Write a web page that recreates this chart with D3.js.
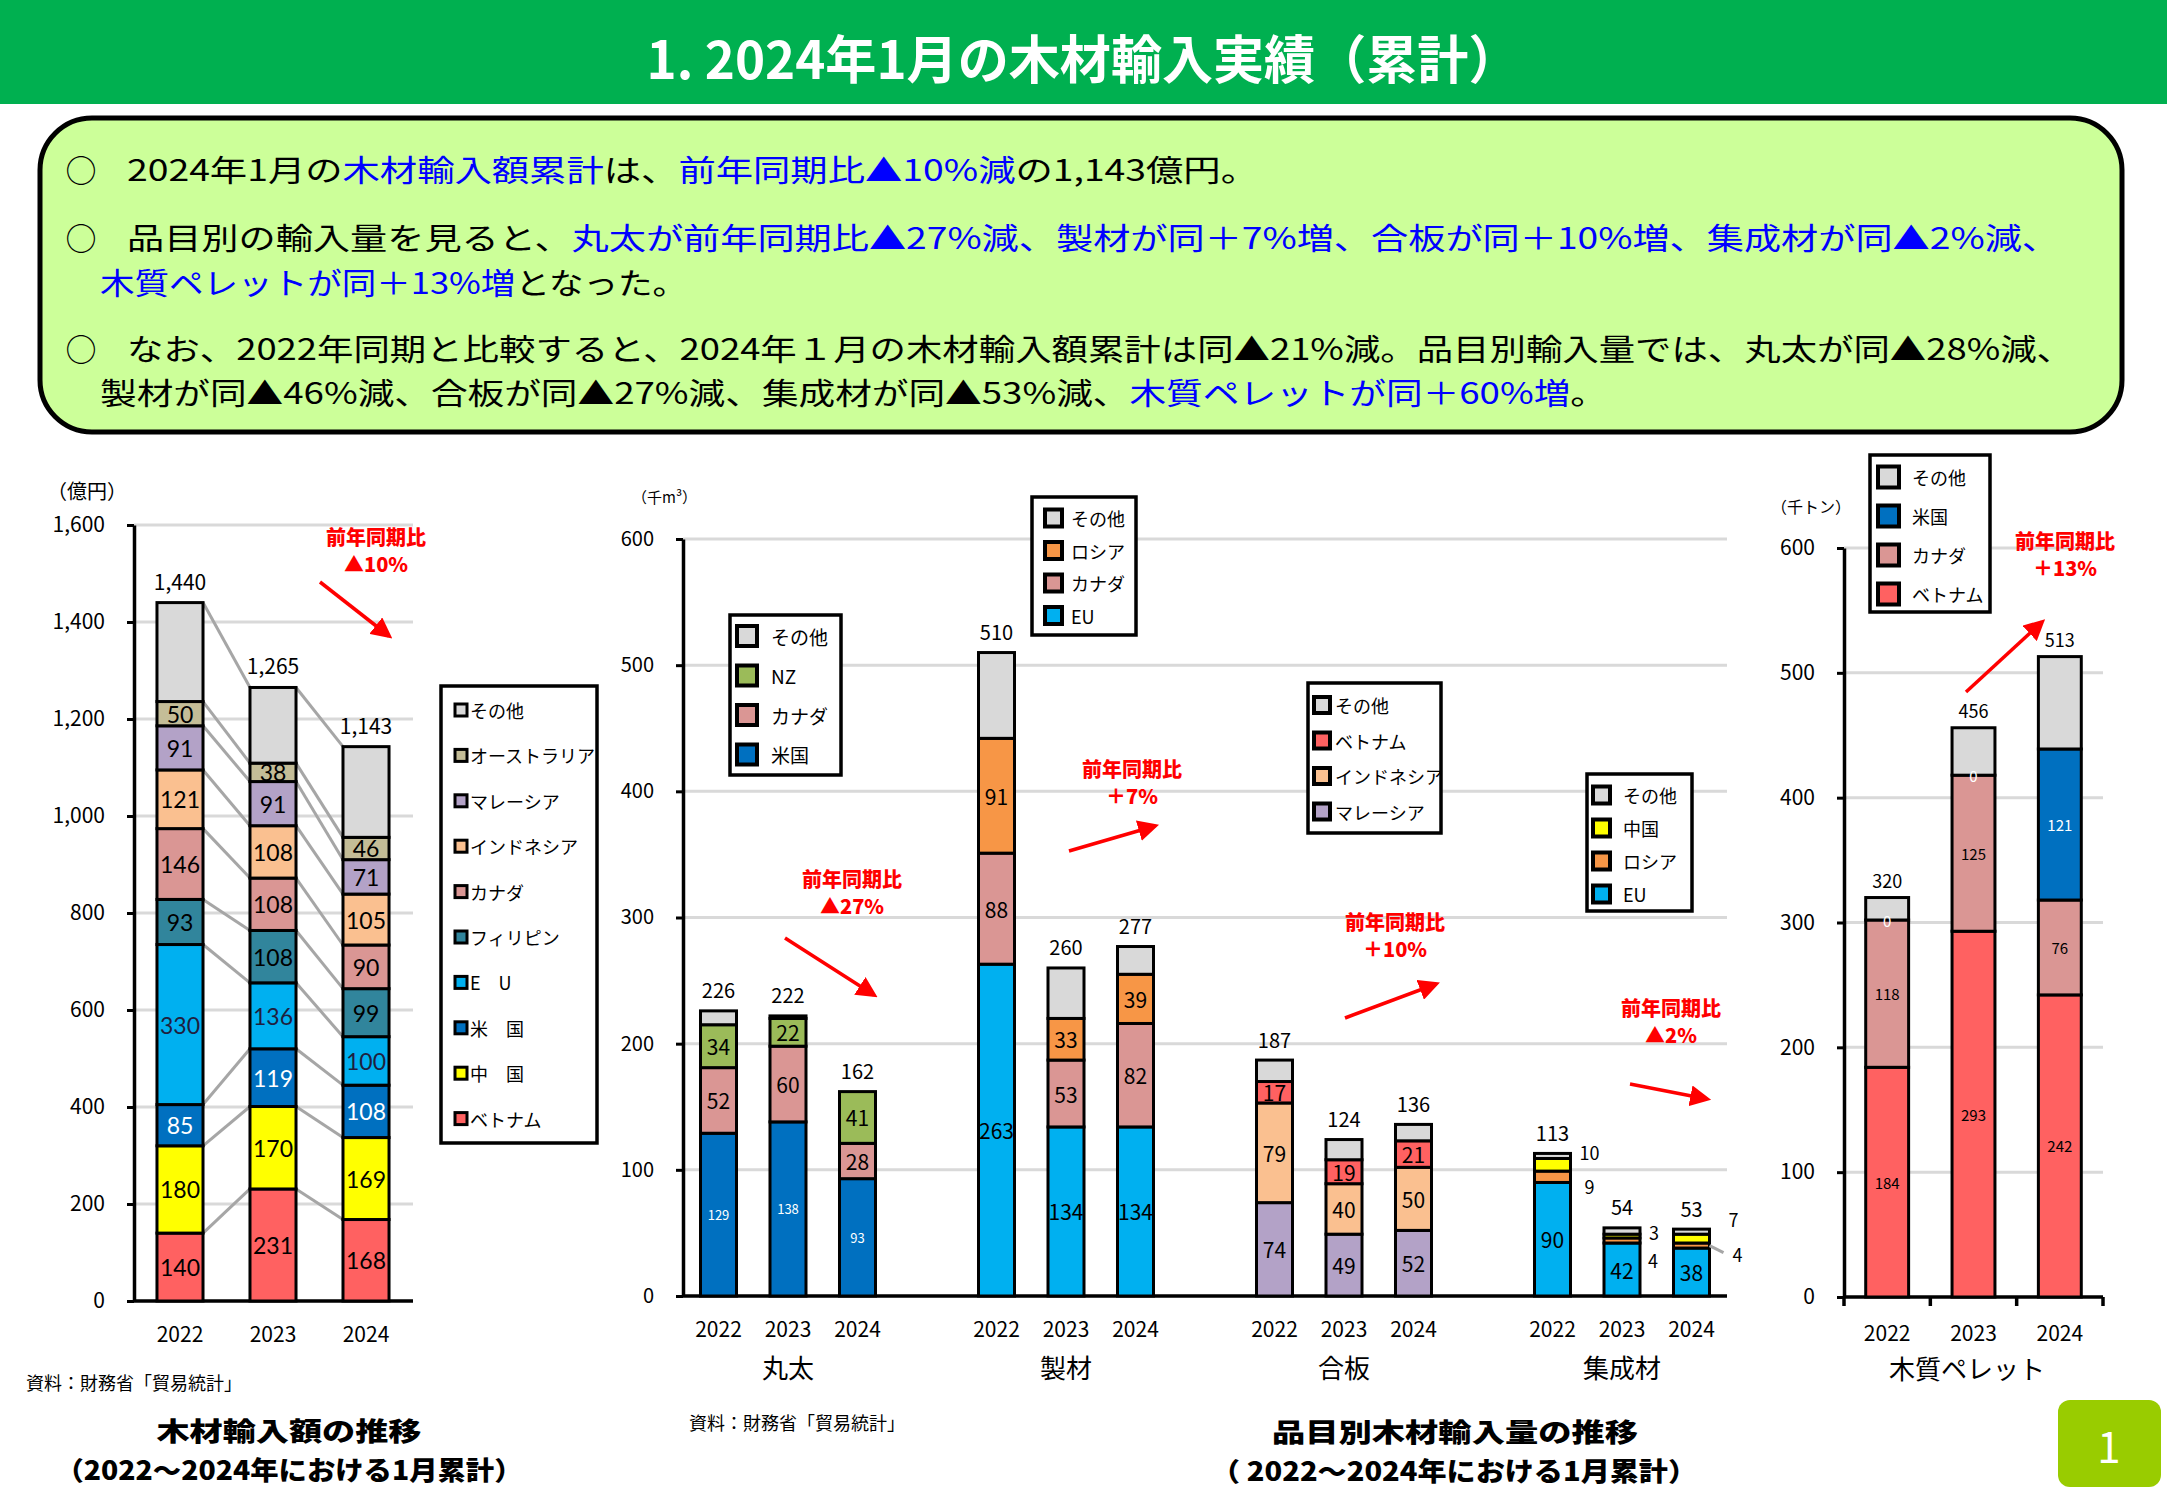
<!DOCTYPE html>
<html lang="ja">
<head>
<meta charset="utf-8">
<script src="https://cdn.jsdelivr.net/npm/d3@7"></script>
<style>
  body { margin: 0; background: #fff; }
  svg text { font-family: "Noto Sans CJK JP", "Noto Sans", sans-serif; }
  svg text.num { font-family: Lato, "Noto Sans", sans-serif; }
</style>
</head>
<body>
<div id="page"></div>
<script>
const years = ["2022", "2023", "2024"];

// 木材輸入額（億円）— stacking order, bottom to top
const amountSeries = ["ベトナム", "中国", "米国", "EU", "フィリピン", "カナダ", "インドネシア", "マレーシア", "オーストラリア", "その他"];
const amountLegend = ["ベトナム", "中　国", "米　国", "E　U", "フィリピン", "カナダ", "インドネシア", "マレーシア", "オーストラリア", "その他"];
const amountValues = [
  [140, 231, 168],
  [180, 170, 169],
  [85, 119, 108],
  [330, 136, 100],
  [93, 108, 99],
  [146, 108, 90],
  [121, 108, 105],
  [91, 91, 71],
  [50, 38, 46],
  [204, 156, 187]
];
const amountTotals = [1440, 1265, 1143];
const amountTicks = [0, 200, 400, 600, 800, 1000, 1200, 1400, 1600];

// 品目別木材輸入量（千m³）
const productGroups = ["丸太", "製材", "合板", "集成材"];

const marutaSeries = ["米国", "カナダ", "NZ", "その他"];
const marutaValues = [[129, 138, 93], [52, 60, 28], [34, 22, 41], [11, 2, 0]];
const marutaTotals = [226, 222, 162];

const seizaiSeries = ["EU", "カナダ", "ロシア", "その他"];
const seizaiValues = [[263, 134, 134], [88, 53, 82], [91, 33, 39], [68, 40, 22]];
const seizaiTotals = [510, 260, 277];

const gouhanSeries = ["マレーシア", "インドネシア", "ベトナム", "その他"];
const gouhanValues = [[74, 49, 52], [79, 40, 50], [17, 19, 21], [17, 16, 13]];
const gouhanTotals = [187, 124, 136];

const shuseiSeries = ["EU", "ロシア", "中国", "その他"];
const shuseiValues = [[90, 42, 38], [9, 4, 4], [10, 3, 7], [4, 5, 4]];
const shuseiTotals = [113, 54, 53];

const volumeTicks = [0, 100, 200, 300, 400, 500, 600];

// 木質ペレット（千トン）
const pelletSeries = ["ベトナム", "カナダ", "米国", "その他"];
const pelletValues = [[184, 293, 242], [118, 125, 76], [0, 0, 121], [18, 38, 74]];
const pelletTotals = [320, 456, 513];

const palette = {
  "ベトナム": "#FF6161", "中国": "#FFFF00", "米国": "#0070C0", "EU": "#00B0F0",
  "フィリピン": "#31859C", "カナダ": "#DA9694", "インドネシア": "#FAC090",
  "マレーシア": "#B3A2C7", "オーストラリア": "#C4BD97", "その他": "#D9D9D9",
  "NZ": "#9BBB59", "ロシア": "#F79646"
};

const W = 2167, H = 1500;
const svg = d3.select("#page").append("svg").attr("width", W).attr("height", H);
svg.append("rect").attr("width", W).attr("height", H).attr("fill", "#fff");

// ---- header ----
svg.append("rect").attr("width", W).attr("height", 104).attr("fill", "#00B050");
svg.append("text")
  .attr("x", 1083).attr("y", 56)
  .attr("text-anchor", "middle").attr("dominant-baseline", "central")
  .attr("fill", "#fff").attr("font-size", 52).attr("font-weight", 700)
  .attr("textLength", 873).attr("lengthAdjust", "spacingAndGlyphs")
  .text("1. 2024年1月の木材輸入実績（累計）");

// ---- summary box ----
svg.append("rect")
  .attr("x", 40).attr("y", 118).attr("width", 2082).attr("height", 314).attr("rx", 52)
  .attr("fill", "#CCFF99").attr("stroke", "#000").attr("stroke-width", 5);

const bodyLines = [
  {x: 127, y: 168, w: 1131, bullet: true, parts: [["2024年1月の", 0], ["木材輸入額累計", 1], ["は、", 0], ["前年同期比▲10%減", 1], ["の1,143億円。", 0]]},
  {x: 127, y: 236, w: 1932, bullet: true, parts: [["品目別の輸入量を見ると、", 0], ["丸太が前年同期比▲27%減、製材が同＋7%増、合板が同＋10%増、集成材が同▲2%減、", 1]]},
  {x: 100, y: 281, w: 587, bullet: false, parts: [["木質ペレットが同＋13%増", 1], ["となった。", 0]]},
  {x: 127, y: 347, w: 1946, bullet: true, parts: [["なお、2022年同期と比較すると、2024年１月の木材輸入額累計は同▲21%減。品目別輸入量では、丸太が同▲28%減、", 0]]},
  {x: 100, y: 391, w: 1507, bullet: false, parts: [["製材が同▲46%減、合板が同▲27%減、集成材が同▲53%減、", 0], ["木質ペレットが同＋60%増", 1], ["。", 0]]}
];
bodyLines.forEach(l => {
  if (l.bullet) {
    svg.append("text").attr("x", 81).attr("y", l.y)
      .attr("text-anchor", "middle").attr("dominant-baseline", "central")
      .attr("font-size", 31).text("○");
  }
  const t = svg.append("text").attr("x", l.x).attr("y", l.y)
    .attr("dominant-baseline", "central").attr("font-size", 30)
    .attr("textLength", l.w).attr("lengthAdjust", "spacingAndGlyphs");
  l.parts.forEach(p => t.append("tspan").attr("fill", p[1] ? "#0000FF" : "#000").text(p[0]));
});

// ---- helpers ----
function yAxis(g, y, x0, x1, ticks, fmt, fs) {
  g.append("g").selectAll("line").data(ticks.filter(t => t > 0)).join("line")
    .attr("x1", x0).attr("x2", x1)
    .attr("y1", d => y(d)).attr("y2", d => y(d))
    .attr("stroke", "#D9D9D9").attr("stroke-width", 3);
  const ax = g.append("g").attr("transform", `translate(${x0},0)`)
    .call(d3.axisLeft(y).tickValues(ticks).tickFormat(fmt).tickSize(7).tickSizeOuter(0).tickPadding(22));
  ax.attr("font-size", fs);
  ax.select(".domain").attr("stroke", "#000").attr("stroke-width", 3.5);
  ax.selectAll(".tick line").attr("stroke", "#000").attr("stroke-width", 3);
  ax.selectAll(".tick text").attr("fill", "#000");
  g.append("line").attr("x1", x0).attr("x2", x1).attr("y1", y(0)).attr("y2", y(0))
    .attr("stroke", "#000").attr("stroke-width", 3.5);
}

function drawStack(g, cfg) {
  const rows = years.map((yr, i) => {
    const r = {year: yr};
    cfg.series.forEach((s, k) => { r[s] = cfg.values[k][i]; });
    return r;
  });
  const stacked = d3.stack().keys(cfg.series)(rows);
  const x = cfg.x, y = cfg.y, bw = x.bandwidth();

  if (cfg.connect) {
    const segs = [];
    stacked.forEach(layer => {
      for (let i = 0; i < years.length - 1; i++) segs.push([layer[i], layer[i + 1]]);
    });
    g.append("g").selectAll("line").data(segs).join("line")
      .attr("x1", d => x(d[0].data.year) + bw).attr("y1", d => y(d[0][1]))
      .attr("x2", d => x(d[1].data.year)).attr("y2", d => y(d[1][1]))
      .attr("stroke", "#A6A6A6").attr("stroke-width", 3);
  }

  g.append("g").selectAll("g").data(stacked).join("g")
    .attr("fill", d => palette[d.key])
    .selectAll("rect").data(d => d).join("rect")
    .attr("x", d => x(d.data.year)).attr("width", bw)
    .attr("y", d => y(d[1])).attr("height", d => y(d[0]) - y(d[1]))
    .attr("stroke", "#000").attr("stroke-width", 3);

  const labels = [];
  stacked.forEach(layer => {
    if (cfg.skip.includes(layer.key)) return;
    layer.forEach(d => labels.push({key: layer.key, d}));
  });
  g.append("g").selectAll("text").data(labels).join("text")
    .attr("class", cfg.labelClass || null)
    .attr("x", l => x(l.d.data.year) + bw / 2)
    .attr("y", l => y((l.d[0] + l.d[1]) / 2))
    .attr("text-anchor", "middle").attr("dominant-baseline", "central")
    .attr("font-size", l => (cfg.labelSize[l.key] || cfg.labelSize.all))
    .attr("fill", l => (cfg.labelColor[l.key] || "#000"))
    .text(l => l.d[1] - l.d[0]);

  g.append("g").selectAll("text").data(cfg.totals).join("text")
    .attr("x", (t, i) => x(years[i]) + bw / 2)
    .attr("y", t => y(t) - cfg.totalGap)
    .attr("text-anchor", "middle").attr("dominant-baseline", "central")
    .attr("font-size", cfg.totalSize)
    .text(t => d3.format(",")(t));
  return stacked;
}

function drawLegend(g, o) {
  g.append("rect").attr("x", o.x).attr("y", o.y).attr("width", o.w).attr("height", o.h)
    .attr("fill", "#fff").attr("stroke", "#000").attr("stroke-width", 3.5);
  const items = g.append("g").selectAll("g").data(o.keys).join("g")
    .attr("transform", (k, i) => `translate(0,${o.y0 + i * o.step})`);
  items.append("rect")
    .attr("x", o.mx).attr("y", -o.m / 2).attr("width", o.m).attr("height", o.m)
    .attr("fill", k => palette[k]).attr("stroke", "#000").attr("stroke-width", o.m > 14 ? 4 : 3);
  items.append("text").attr("x", o.tx).attr("dominant-baseline", "central")
    .attr("font-size", o.fs).text((k, i) => o.labels[i]);
}

function drawNote(g, n) {
  const t = g.append("text").attr("text-anchor", "middle").attr("fill", "#FF0000")
    .attr("font-size", 20).attr("font-weight", 900);
  t.append("tspan").attr("x", n.cx).attr("y", n.y1).attr("dominant-baseline", "central").text("前年同期比");
  t.append("tspan").attr("x", n.cx).attr("y", n.y1 + 27).attr("dominant-baseline", "central").text(n.rate);
  g.append("line").attr("x1", n.a[0]).attr("y1", n.a[1]).attr("x2", n.a[2]).attr("y2", n.a[3])
    .attr("stroke", "#FF0000").attr("stroke-width", 3.5).attr("marker-end", "url(#arrowhead)");
}

svg.append("defs").append("marker")
  .attr("id", "arrowhead").attr("viewBox", "0 0 10 10").attr("refX", 8).attr("refY", 5)
  .attr("markerWidth", 6).attr("markerHeight", 6).attr("orient", "auto")
  .append("path").attr("d", "M0,0L10,5L0,10z").attr("fill", "#FF0000");

// ---- chart 1: 木材輸入額 ----
const g1 = svg.append("g");
const x1 = d3.scaleBand().domain(years).range([134, 412]).paddingInner(0.505).paddingOuter(0.247);
const y1 = d3.scaleLinear().domain([0, 1600]).range([1301, 525]);
yAxis(g1, y1, 134, 413, amountTicks, d3.format(","), 21);
drawStack(g1, {
  series: amountSeries, values: amountValues, totals: amountTotals, x: x1, y: y1,
  connect: true, skip: ["その他"], labelClass: "num",
  labelSize: {all: 23}, labelColor: {"米国": "#fff", "EU": "#1F1F3F"},
  totalSize: 21, totalGap: 22
});
g1.append("g").selectAll("text").data(years).join("text")
  .attr("x", d => x1(d) + x1.bandwidth() / 2).attr("y", 1333)
  .attr("text-anchor", "middle").attr("dominant-baseline", "central").attr("font-size", 21).text(d => d);
g1.append("text").attr("x", 47).attr("y", 490).attr("dominant-baseline", "central").attr("font-size", 20).text("（億円）");
drawLegend(g1, {
  x: 441, y: 686, w: 156, h: 457, y0: 710, step: 45.4, m: 12, mx: 455, tx: 470, fs: 18,
  keys: amountSeries.slice().reverse(), labels: amountLegend.slice().reverse()
});
drawNote(g1, {cx: 376, y1: 536, rate: "▲10%", a: [320, 582, 389, 636]});
g1.append("text").attr("x", 26).attr("y", 1382).attr("dominant-baseline", "central").attr("font-size", 18).text("資料：財務省「貿易統計」");
g1.append("text").attr("x", 289).attr("y", 1429).attr("text-anchor", "middle").attr("dominant-baseline", "central")
  .attr("font-size", 26).attr("font-weight", 900).attr("textLength", 265).attr("lengthAdjust", "spacingAndGlyphs").text("木材輸入額の推移");
g1.append("text").attr("x", 289).attr("y", 1468).attr("text-anchor", "middle").attr("dominant-baseline", "central")
  .attr("font-size", 26).attr("font-weight", 900).attr("textLength", 467).attr("lengthAdjust", "spacingAndGlyphs").text("（2022～2024年における1月累計）");

// ---- chart 2: 品目別木材輸入量 ----
const g2 = svg.append("g");
const xG = d3.scaleBand().domain(productGroups).range([649, 1761]);
const xIn = d3.scaleBand().domain(years).range([0, xG.bandwidth()]).paddingInner(0.482).paddingOuter(0.741);
const y2 = d3.scaleLinear().domain([0, 600]).range([1296, 539]);
yAxis(g2, y2, 683, 1727, volumeTicks, d3.format("d"), 20);
g2.append("text").attr("x", 632).attr("y", 496).attr("dominant-baseline", "central").attr("font-size", 15).text("（千m³）");

const groupData = [
  {series: marutaSeries, values: marutaValues, totals: marutaTotals, labelSize: {all: 21, "米国": 13}, labelColor: {"米国": "#fff"}, skip: ["その他"]},
  {series: seizaiSeries, values: seizaiValues, totals: seizaiTotals, labelSize: {all: 21}, labelColor: {}, skip: ["その他"]},
  {series: gouhanSeries, values: gouhanValues, totals: gouhanTotals, labelSize: {all: 21}, labelColor: {}, skip: ["その他"]},
  {series: shuseiSeries, values: shuseiValues, totals: shuseiTotals, labelSize: {all: 21}, labelColor: {}, skip: ["その他", "ロシア", "中国"]}
];
let shuseiStack = null;
productGroups.forEach((grp, gi) => {
  const gg = g2.append("g").attr("transform", `translate(${xG(grp)},0)`);
  const cfg = Object.assign({x: xIn, y: y2, totalSize: 20, totalGap: 21}, groupData[gi]);
  const st = drawStack(gg, cfg);
  if (grp === "集成材") shuseiStack = {g: gg, st};
  gg.append("g").selectAll("text").data(years).join("text")
    .attr("x", d => xIn(d) + xIn.bandwidth() / 2).attr("y", 1328)
    .attr("text-anchor", "middle").attr("dominant-baseline", "central").attr("font-size", 21).text(d => d);
  gg.append("text").attr("x", xG.bandwidth() / 2).attr("y", 1366)
    .attr("text-anchor", "middle").attr("dominant-baseline", "central").attr("font-size", 26).text(grp);
});

// small 集成材 segments labelled beside the bars
const outsideNudge = {"中国": [[19, -13], [14, -4], [24, -20]], "ロシア": [[19, 9], [13, 20], [28, 8]]};
{
  const gg = shuseiStack.g, bw = xIn.bandwidth();
  const out = [];
  shuseiStack.st.filter(l => outsideNudge[l.key]).forEach(layer => {
    layer.forEach((d, i) => out.push({key: layer.key, i, d}));
  });
  gg.append("g").selectAll("text").data(out).join("text")
    .attr("x", o => xIn(o.d.data.year) + bw + outsideNudge[o.key][o.i][0])
    .attr("y", o => y2((o.d[0] + o.d[1]) / 2) + outsideNudge[o.key][o.i][1])
    .attr("dominant-baseline", "central").attr("font-size", 18)
    .attr("text-anchor", "middle")
    .text(o => o.d[1] - o.d[0]);
  const lead = out.filter(o => o.key === "ロシア" && o.i === 2);
  gg.append("g").selectAll("line").data(lead).join("line")
    .attr("x1", o => xIn(o.d.data.year) + bw).attr("x2", o => xIn(o.d.data.year) + bw + 14)
    .attr("y1", o => y2((o.d[0] + o.d[1]) / 2)).attr("y2", o => y2((o.d[0] + o.d[1]) / 2) + 7)
    .attr("stroke", "#A6A6A6").attr("stroke-width", 3);
}

drawLegend(g2, {x: 730, y: 615, w: 111, h: 160, y0: 636, step: 39.5, m: 20, mx: 737, tx: 771, fs: 19,
  keys: marutaSeries.slice().reverse(), labels: marutaSeries.slice().reverse()});
drawLegend(g2, {x: 1032, y: 497, w: 104, h: 138, y0: 518, step: 32.5, m: 17, mx: 1045, tx: 1071, fs: 18,
  keys: seizaiSeries.slice().reverse(), labels: seizaiSeries.slice().reverse()});
drawLegend(g2, {x: 1308, y: 683, w: 133, h: 150, y0: 705, step: 35.5, m: 16, mx: 1314, tx: 1335, fs: 18,
  keys: gouhanSeries.slice().reverse(), labels: gouhanSeries.slice().reverse()});
drawLegend(g2, {x: 1587, y: 774, w: 105, h: 137, y0: 795, step: 33, m: 17, mx: 1593, tx: 1623, fs: 18,
  keys: shuseiSeries.slice().reverse(), labels: shuseiSeries.slice().reverse()});

drawNote(g2, {cx: 852, y1: 878, rate: "▲27%", a: [785, 938, 874, 995]});
drawNote(g2, {cx: 1132, y1: 768, rate: "＋7%", a: [1069, 851, 1155, 826]});
drawNote(g2, {cx: 1395, y1: 921, rate: "＋10%", a: [1345, 1018, 1436, 984]});
drawNote(g2, {cx: 1671, y1: 1007, rate: "▲2%", a: [1630, 1084, 1707, 1099]});

g2.append("text").attr("x", 689).attr("y", 1422).attr("dominant-baseline", "central").attr("font-size", 18).text("資料：財務省「貿易統計」");
g2.append("text").attr("x", 1455).attr("y", 1430).attr("text-anchor", "middle").attr("dominant-baseline", "central")
  .attr("font-size", 26).attr("font-weight", 900).attr("textLength", 366).attr("lengthAdjust", "spacingAndGlyphs").text("品目別木材輸入量の推移");
g2.append("text").attr("x", 1454).attr("y", 1469).attr("text-anchor", "middle").attr("dominant-baseline", "central")
  .attr("font-size", 26).attr("font-weight", 900).attr("textLength", 486).attr("lengthAdjust", "spacingAndGlyphs").text("（ 2022～2024年における1月累計）");

// ---- chart 3: 木質ペレット ----
const g3 = svg.append("g");
const x3 = d3.scaleBand().domain(years).range([1844, 2103]).paddingInner(0.503).paddingOuter(0.2515);
const y3 = d3.scaleLinear().domain([0, 600]).range([1297, 548]);
yAxis(g3, y3, 1844, 2103, volumeTicks, d3.format("d"), 21);
g3.append("g").selectAll("line").data(d3.range(years.length + 1)).join("line")
  .attr("x1", i => x3.range()[0] + i * x3.step()).attr("x2", i => x3.range()[0] + i * x3.step())
  .attr("y1", y3(0)).attr("y2", y3(0) + 9)
  .attr("stroke", "#000").attr("stroke-width", 3.5);
drawStack(g3, {
  series: pelletSeries, values: pelletValues, totals: pelletTotals, x: x3, y: y3,
  skip: ["その他"], labelSize: {all: 15}, labelColor: {"米国": "#fff"},
  totalSize: 18, totalGap: 18
});
g3.append("g").selectAll("text").data(years).join("text")
  .attr("x", d => x3(d) + x3.bandwidth() / 2).attr("y", 1332)
  .attr("text-anchor", "middle").attr("dominant-baseline", "central").attr("font-size", 21).text(d => d);
g3.append("text").attr("x", 1967).attr("y", 1367).attr("text-anchor", "middle").attr("dominant-baseline", "central")
  .attr("font-size", 26).text("木質ペレット");
g3.append("text").attr("x", 1771).attr("y", 506).attr("dominant-baseline", "central").attr("font-size", 16).text("（千トン）");
drawLegend(g3, {x: 1870, y: 455, w: 120, h: 157, y0: 477, step: 39, m: 21, mx: 1878, tx: 1912, fs: 18,
  keys: pelletSeries.slice().reverse(), labels: pelletSeries.slice().reverse()});
drawNote(g3, {cx: 2065, y1: 540, rate: "＋13%", a: [1966, 692, 2042, 622]});

// ---- page number ----
svg.append("rect").attr("x", 2058).attr("y", 1400).attr("width", 103).attr("height", 87).attr("rx", 12).attr("fill", "#99CC00");
svg.append("text").attr("x", 2109).attr("y", 1444).attr("text-anchor", "middle").attr("dominant-baseline", "central")
  .attr("fill", "#fff").attr("font-size", 42).text("1");
</script>
</body>
</html>
